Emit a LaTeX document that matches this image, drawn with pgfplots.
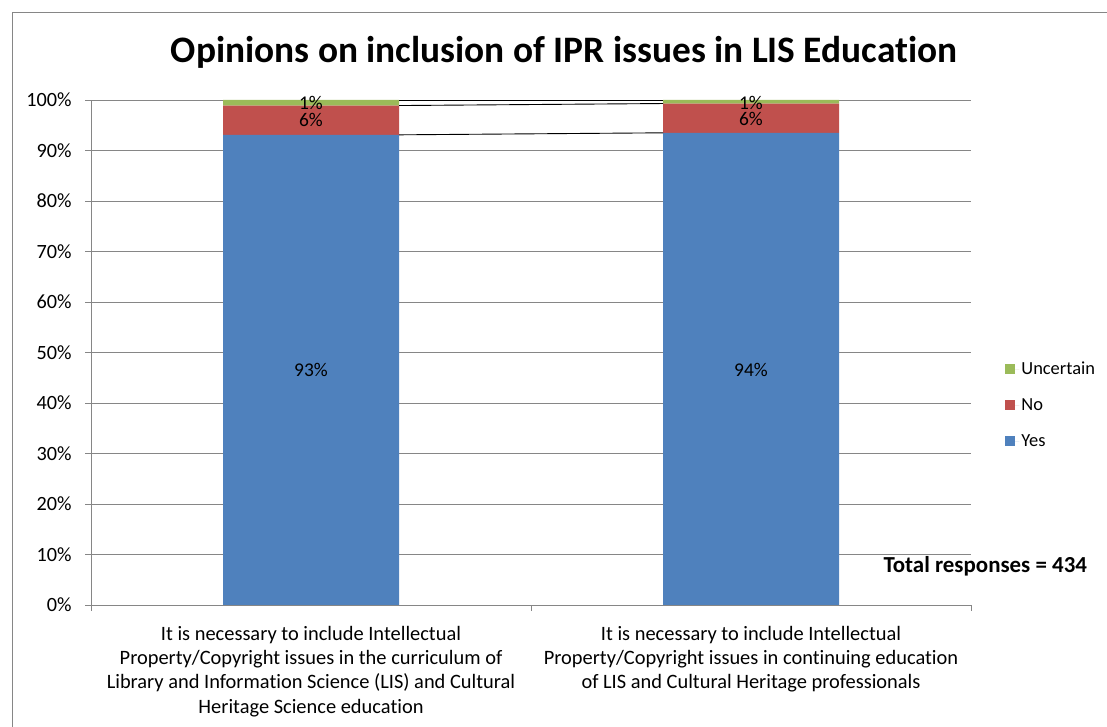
\documentclass[border=0pt]{standalone}
\usepackage{fontspec}
\setmainfont{Carlito}[Ligatures=NoCommon]
\usepackage{pgfplots}
\pgfplotsset{compat=1.18}
\definecolor{cyes}{HTML}{4F81BD}
\definecolor{cno}{HTML}{C0504D}
\definecolor{cunc}{HTML}{9BBB59}
\definecolor{cgrid}{HTML}{868686}
\begin{document}
\begin{tikzpicture}
\path[use as bounding box] (0,0) rectangle (1107bp,727bp);
\draw[cgrid, line width=1bp] (12bp,0) -- (12bp,714bp) -- (1107bp,714bp);
\begin{axis}[
  at={(91bp,122bp)}, anchor=south west, scale only axis,
  width=880bp, height=505bp,
  ybar stacked, bar width=0.4,
  xmin=-0.5, xmax=1.5, ymin=0, ymax=100,
  axis x line*=bottom, axis y line*=left,
  axis line style={-, cgrid, line width=0.8bp},
  ymajorgrids, grid style={cgrid, line width=0.8bp},
  ytick={0,10,...,100},
  yticklabel={\pgfmathparse{int(\tick)}\pgfmathresult\%},
  xtick={-0.5,0.5,1.5}, xticklabels={},
  tick align=outside, major tick length=6bp,
  tick style={cgrid, line width=0.8bp},
  /pgf/number format/assume math mode=true,
  yticklabel style={font=\fontsize{20.3}{24}\selectfont, xshift=-10bp},
  extra x ticks={0,1},
  extra x tick labels={{It is necessary to include Intellectual\\Property/Copyright issues in the curriculum of\\Library and Information Science (LIS) and Cultural\\Heritage Science education},
    {It is necessary to include Intellectual\\Property/Copyright issues in continuing education\\of LIS and Cultural Heritage professionals}},
  extra x tick style={major tick length=0pt,
    xticklabel style={align=center, anchor=north, font=\fontsize{20.5}{24.2}\selectfont, yshift=-18bp}},
  legend style={at={(1.0355,0.396)}, anchor=west, draw=none, fill=none,
    font=\fontsize{18.5}{22}\selectfont, row sep=18.5bp, cells={anchor=west}},
  legend image code/.code={\fill[#1] (0bp,-5bp) rectangle (10bp,5bp); \path (0bp,0bp) -- (14bp,0bp);},
  reverse legend,
]
\addplot[fill=cyes, draw=none] coordinates {(0,93.1) (1,93.5)};
\addlegendentry{Yes}
\addplot[fill=cno, draw=none] coordinates {(0,5.8) (1,5.8)};
\addlegendentry{No}
\addplot[fill=cunc, draw=none] coordinates {(0,1.1) (1,0.7)};
\addlegendentry{Uncertain}
\end{axis}
\begin{axis}[
  at={(91bp,122bp)}, anchor=south west, scale only axis,
  width=880bp, height=505bp,
  xmin=-0.5, xmax=1.5, ymin=0, ymax=100, hide axis,
  /pgf/number format/assume math mode=true,
]
\addplot[black, line width=0.9bp, mark=none] coordinates {(0.2,93.1) (0.8,93.5)};
\addplot[black, line width=0.9bp, mark=none] coordinates {(0.2,98.9) (0.8,99.3)};
\addplot[black, line width=0.9bp, mark=none] coordinates {(0.2,100) (0.8,100)};
\addplot[draw=none, mark=none, point meta=explicit,
  nodes near coords={\pgfmathprintnumber[fixed,precision=0]{\pgfplotspointmeta}\%},
  nodes near coords style={anchor=center, font=\fontsize{19.5}{23}\selectfont, text=black}]
  table[meta=l] {
x y l
0 46.5 93
0 96.0 6
0 99.4 1
1 46.5 94
1 96.2 6
1 99.4 1
};
\end{axis}
\node[font=\fontsize{37.5}{44}\selectfont\bfseries] at (564bp,675bp) {Opinions on inclusion of IPR issues in LIS Education};
\node[anchor=west, font=\fontsize{23}{27}\selectfont\bfseries] at (880bp,161bp) {Total responses = 434};
\end{tikzpicture}
\end{document}
